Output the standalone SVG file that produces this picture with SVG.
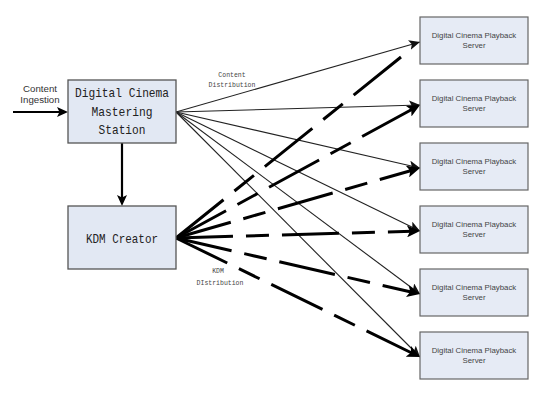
<svg xmlns="http://www.w3.org/2000/svg" width="544" height="406" viewBox="0 0 544 406">
<style>
.box{fill:#e2e8f3;stroke:#555;stroke-width:1.3}
.srv{fill:#e6ebf5;stroke:#666;stroke-width:1.2}
.main{font-family:"Liberation Mono","DejaVu Sans Mono",monospace;font-size:13px;fill:#222;text-anchor:middle}
.st{font-family:"Liberation Sans",Arial,sans-serif;font-size:7.8px;fill:#444;text-anchor:middle}
.lbl{font-family:"Liberation Sans",Arial,sans-serif;font-size:9.7px;fill:#333;text-anchor:middle}
.sm{font-family:"Liberation Mono","DejaVu Sans Mono",monospace;font-size:6.5px;fill:#444;text-anchor:middle}
.thin{stroke:#222;stroke-width:1.1;fill:none}
.kdm{stroke:#000;stroke-width:3;fill:none;stroke-dasharray:57 13 23 13}
.solid{stroke:#000;stroke-width:2.2;fill:none}
</style>
<defs>
<marker id="ah" markerUnits="userSpaceOnUse" markerWidth="12" markerHeight="10" refX="11" refY="5" orient="auto">
<path d="M0,0 L11,5 L0,10 L2.5,5 z" fill="#111"/>
</marker>
<marker id="ak" markerUnits="userSpaceOnUse" markerWidth="14" markerHeight="12" refX="5" refY="6" orient="auto">
<path d="M0,0 L13,6 L0,12 L3,6 z" fill="#000"/>
</marker>
<marker id="am" markerUnits="userSpaceOnUse" markerWidth="12" markerHeight="10" refX="4" refY="5" orient="auto">
<path d="M0,0 L11,5 L0,10 L2.5,5 z" fill="#000"/>
</marker>
</defs>

<g id="connectors">
<line class="solid" x1="13" y1="112" x2="61" y2="112" marker-end="url(#am)"/>
<line class="solid" x1="122" y1="143" x2="122" y2="199" marker-end="url(#am)"/>
<line class="thin" x1="176" y1="112" x2="420" y2="42" marker-end="url(#ah)"/>
<line class="thin" x1="176" y1="112" x2="420" y2="105" marker-end="url(#ah)"/>
<line class="thin" x1="176" y1="112" x2="420" y2="168" marker-end="url(#ah)"/>
<line class="thin" x1="176" y1="112" x2="420" y2="231" marker-end="url(#ah)"/>
<line class="thin" x1="176" y1="112" x2="420" y2="294" marker-end="url(#ah)"/>
<line class="thin" x1="176" y1="112" x2="420" y2="357" marker-end="url(#ah)"/>
<line class="kdm" x1="176" y1="238" x2="401" y2="57" style="stroke-dasharray:61 14 25 14"/>
<line class="kdm" x1="176" y1="238" x2="413.0" y2="108.8" marker-end="url(#ak)"/>
<line class="kdm" x1="176" y1="238" x2="412.3" y2="170.2" marker-end="url(#ak)"/>
<line class="kdm" x1="176" y1="238" x2="412.0" y2="231.2" marker-end="url(#ak)"/>
<line class="kdm" x1="176" y1="238" x2="412.2" y2="292.2" marker-end="url(#ak)"/>
<line class="kdm" x1="176" y1="238" x2="412.8" y2="353.5" marker-end="url(#ak)"/>
<text class="lbl" x="40" y="92">Content</text>
<text class="lbl" x="40" y="103">Ingestion</text>
<text class="sm" x="232" y="77">Content</text>
<text class="sm" x="232" y="87">Distribution</text>
<text class="sm" x="218" y="273">KDM</text>
<text class="sm" x="220" y="285">DIstribution</text>
</g>

<g id="mastering">
<rect class="box" x="68" y="80" width="108" height="63"/>
<text class="main" x="122" y="97" textLength="94" lengthAdjust="spacingAndGlyphs">Digital Cinema</text>
<text class="main" x="122" y="116" textLength="61" lengthAdjust="spacingAndGlyphs">Mastering</text>
<text class="main" x="122" y="134" textLength="47" lengthAdjust="spacingAndGlyphs">Station</text>
</g>

<g id="kdm">
<rect class="box" x="68" y="206" width="108" height="63"/>
<text class="main" x="122" y="243" textLength="72" lengthAdjust="spacingAndGlyphs">KDM Creator</text>
</g>

<g id="server1"><rect class="srv" x="420" y="17" width="108" height="47"/><text class="st" x="474" y="37.5">Digital Cinema Playback</text><text class="st" x="474" y="47.5">Server</text></g>
<g id="server2"><rect class="srv" x="420" y="80" width="108" height="47"/><text class="st" x="474" y="100.5">Digital Cinema Playback</text><text class="st" x="474" y="110.5">Server</text></g>
<g id="server3"><rect class="srv" x="420" y="143" width="108" height="47"/><text class="st" x="474" y="163.5">Digital Cinema Playback</text><text class="st" x="474" y="173.5">Server</text></g>
<g id="server4"><rect class="srv" x="420" y="206" width="108" height="47"/><text class="st" x="474" y="226.5">Digital Cinema Playback</text><text class="st" x="474" y="236.5">Server</text></g>
<g id="server5"><rect class="srv" x="420" y="269" width="108" height="47"/><text class="st" x="474" y="289.5">Digital Cinema Playback</text><text class="st" x="474" y="299.5">Server</text></g>
<g id="server6"><rect class="srv" x="420" y="332" width="108" height="47"/><text class="st" x="474" y="352.5">Digital Cinema Playback</text><text class="st" x="474" y="362.5">Server</text></g>
</svg>
